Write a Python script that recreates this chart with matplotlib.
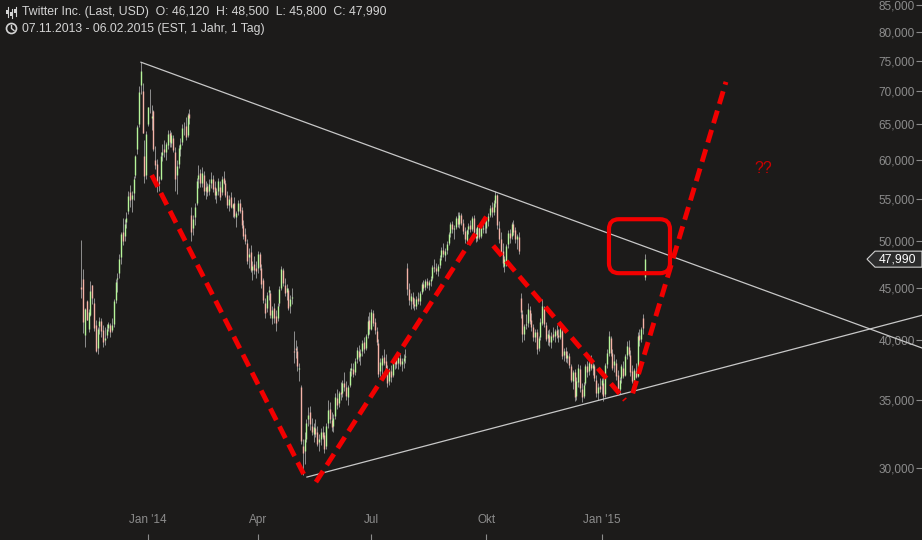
import numpy as np
import matplotlib
matplotlib.use("Agg")
import matplotlib.pyplot as plt
from matplotlib.patches import FancyBboxPatch, Polygon, Circle, Rectangle
from matplotlib.transforms import IdentityTransform

plt.rcParams['font.family'] = ['Liberation Sans', 'DejaVu Sans']
plt.rcParams['lines.scale_dashes'] = False

# Tageskerzen (open, high, low, close), eine Liste pro Monat
nov13 = [(45.10, 50.09, 44.00, 44.90), (45.93, 46.94, 40.69, 41.65), (40.50, 43.00, 39.40, 42.90),
         (43.66, 43.78, 41.83, 41.90), (41.03, 42.87, 40.76, 42.60), (42.34, 45.67, 42.24, 44.69),
         (45.25, 45.27, 43.43, 43.98), (43.50, 43.95, 40.85, 41.14), (41.39, 41.90, 38.94, 39.06),
         (39.27, 41.20, 38.80, 41.00), (41.30, 42.10, 40.60, 41.75), (41.76, 42.00, 40.30, 40.80),
         (40.90, 41.40, 39.40, 39.87), (40.00, 41.20, 39.60, 40.18), (40.50, 41.50, 40.20, 41.00),
         (41.10, 41.70, 40.80, 41.50)]
dec13 = [(41.40, 41.60, 40.30, 40.78), (40.90, 42.00, 40.70, 41.37), (41.50, 43.90, 41.20, 43.69),
         (43.80, 45.90, 43.50, 45.62), (45.90, 46.50, 44.60, 45.96), (46.50, 48.50, 46.00, 48.00),
         (48.20, 51.00, 47.50, 50.80), (51.00, 52.70, 49.50, 50.00), (50.50, 52.50, 50.00, 51.99),
         (52.20, 53.40, 51.50, 52.60), (53.50, 55.90, 53.10, 55.33), (55.80, 56.70, 54.00, 54.86),
         (55.00, 56.00, 53.40, 55.50), (55.70, 57.80, 54.80, 57.49), (58.00, 60.70, 57.60, 60.51),
         (61.50, 64.90, 60.80, 64.54), (65.00, 70.87, 64.60, 69.96), (71.00, 74.73, 69.50, 73.31),
         (70.10, 71.25, 63.69, 63.75), (60.50, 62.70, 56.90, 57.80), (58.00, 64.00, 57.50, 63.65)]
jan14 = [(65.00, 67.50, 64.80, 67.50), (69.00, 70.43, 66.60, 69.00), (65.85, 67.80, 64.11, 66.29),
         (67.00, 67.15, 61.15, 61.46), (59.95, 61.94, 58.76, 59.29), (59.50, 60.13, 55.85, 57.05),
         (57.05, 57.90, 56.00, 57.00), (57.50, 61.00, 57.30, 60.50), (60.70, 62.20, 59.80, 61.00),
         (61.50, 62.80, 60.40, 61.10), (61.00, 62.50, 60.00, 62.20), (62.00, 64.10, 61.50, 63.60),
         (63.80, 64.20, 61.80, 62.50), (62.30, 63.90, 61.80, 63.40), (63.00, 63.50, 61.00, 61.40),
         (61.00, 61.80, 56.00, 57.50), (58.00, 60.00, 55.60, 59.20), (59.50, 62.00, 58.90, 61.60),
         (61.50, 63.00, 60.50, 62.20), (62.50, 65.00, 62.00, 64.50), (64.50, 65.30, 63.40, 64.50)]
feb14 = [(64.80, 66.00, 62.80, 63.20), (63.50, 66.70, 63.20, 66.30), (66.50, 67.30, 65.00, 65.97),
         (53.00, 54.00, 50.00, 50.97), (51.50, 53.00, 50.70, 52.50), (52.80, 54.50, 51.80, 54.00),
         (54.50, 57.60, 54.20, 57.20), (57.50, 59.30, 56.30, 58.00), (58.20, 58.80, 56.50, 57.00),
         (57.00, 59.00, 56.50, 58.20), (58.00, 58.50, 55.50, 56.00), (56.00, 57.20, 55.00, 56.50),
         (56.60, 57.00, 55.30, 55.80), (56.00, 57.50, 55.50, 56.80), (57.00, 58.40, 56.30, 57.50),
         (57.50, 58.00, 55.80, 56.20), (56.50, 57.20, 55.00, 55.40), (55.50, 56.30, 54.50, 55.90),
         (56.00, 57.60, 55.40, 57.20)]
mar14 = [(56.50, 57.20, 54.80, 55.20), (55.80, 57.80, 55.50, 57.50), (57.60, 58.50, 56.80, 57.00),
         (57.00, 57.40, 55.20, 55.40), (55.50, 56.00, 53.80, 54.20), (54.20, 55.50, 53.50, 55.00),
         (55.20, 55.80, 53.80, 54.00), (53.80, 54.50, 52.80, 54.30), (54.50, 55.20, 52.70, 52.90),
         (52.80, 53.50, 51.60, 53.20), (53.50, 54.80, 53.00, 54.40), (54.50, 55.00, 53.20, 53.50),
         (53.60, 54.00, 51.50, 51.80), (51.80, 52.40, 50.20, 50.60), (50.80, 51.50, 49.70, 50.00),
         (49.80, 50.20, 47.50, 47.80), (48.20, 49.20, 47.00, 48.60), (48.80, 49.50, 46.60, 46.80),
         (46.80, 47.80, 45.80, 47.30), (47.50, 48.30, 46.40, 46.80), (47.00, 47.80, 46.00, 46.70)]
apr14 = [(47.00, 48.90, 46.50, 48.50), (48.50, 48.80, 46.80, 47.10), (47.00, 47.50, 45.00, 45.40),
         (45.80, 46.00, 43.50, 43.80), (43.50, 44.00, 42.00, 42.50), (43.00, 44.60, 42.60, 44.30),
         (44.60, 45.20, 43.80, 44.80), (44.50, 44.80, 42.00, 42.30), (42.00, 43.20, 41.50, 42.80),
         (43.00, 43.50, 41.60, 42.00), (42.20, 42.80, 40.80, 41.60), (42.00, 43.50, 41.80, 43.20),
         (43.50, 45.20, 43.20, 44.90), (45.00, 47.30, 44.80, 46.90), (46.80, 47.00, 45.20, 45.50),
         (45.30, 46.00, 44.20, 44.50), (44.60, 45.40, 43.80, 45.00), (44.80, 45.00, 42.80, 43.00),
         (43.20, 44.30, 42.50, 43.90), (44.00, 45.00, 43.40, 44.10), (39.00, 40.80, 38.00, 38.97)]
may14 = [(39.30, 40.00, 38.40, 39.10), (39.00, 39.50, 37.30, 37.70), (37.50, 38.00, 36.50, 37.60),
         (36.00, 36.20, 31.70, 31.85), (31.50, 32.00, 29.51, 31.00), (31.20, 32.50, 30.30, 32.00),
         (32.00, 33.50, 31.80, 33.20), (33.50, 34.40, 33.00, 33.80), (34.00, 34.50, 32.70, 33.10),
         (33.00, 33.60, 32.30, 32.50), (32.40, 33.20, 31.80, 32.90), (32.80, 33.50, 32.20, 32.40),
         (32.50, 33.00, 31.50, 31.70), (31.80, 32.40, 31.20, 32.00), (32.00, 32.80, 31.60, 32.50),
         (32.50, 33.00, 32.00, 32.20), (32.30, 32.50, 31.00, 31.30), (31.50, 33.20, 31.30, 33.00),
         (33.20, 35.00, 32.80, 34.20), (34.30, 34.80, 33.20, 33.50), (33.40, 34.00, 32.60, 32.90)]
jun14 = [(33.00, 33.90, 32.50, 33.60), (33.70, 35.50, 33.50, 35.20), (35.10, 35.80, 34.30, 34.60),
         (34.70, 35.70, 34.40, 35.50), (35.60, 36.40, 35.00, 35.40), (35.50, 36.60, 35.20, 36.30),
         (36.30, 37.20, 35.70, 36.00), (36.00, 36.50, 35.00, 35.30), (35.20, 36.20, 34.60, 36.00),
         (36.20, 37.60, 36.00, 37.30), (37.40, 38.00, 36.90, 37.60), (37.50, 38.00, 36.80, 37.10),
         (37.20, 38.40, 37.00, 38.20), (38.30, 39.40, 38.00, 39.10), (39.00, 39.60, 38.20, 38.50),
         (38.60, 39.20, 37.80, 38.90), (39.00, 40.00, 38.60, 39.70), (39.80, 40.30, 38.90, 39.20),
         (39.30, 40.60, 39.10, 40.40), (40.50, 42.20, 40.20, 41.80), (41.90, 42.60, 40.60, 40.97)]
jul14 = [(41.00, 42.90, 40.90, 42.60), (42.50, 42.80, 41.30, 41.60), (41.70, 42.00, 40.60, 40.90),
         (40.80, 41.20, 39.60, 39.80), (39.70, 40.10, 36.80, 37.10), (37.30, 38.40, 36.90, 38.10),
         (37.80, 38.70, 36.60, 38.40), (38.50, 39.20, 37.80, 38.00), (38.20, 38.80, 37.10, 37.40),
         (37.40, 37.80, 36.00, 36.30), (36.50, 37.60, 36.20, 37.40), (37.30, 37.80, 36.40, 36.80),
         (37.00, 38.30, 36.80, 38.10), (38.00, 38.60, 37.50, 38.20), (38.30, 38.80, 37.60, 37.90),
         (38.00, 38.70, 37.50, 38.50), (38.40, 38.90, 37.70, 37.90), (37.90, 38.40, 37.30, 38.20),
         (38.20, 38.80, 37.60, 38.40), (38.50, 39.20, 38.00, 38.60), (47.00, 47.60, 44.30, 44.88),
         (44.90, 45.50, 43.30, 43.80)]
aug14 = [(43.70, 44.50, 42.90, 44.20), (44.10, 44.60, 43.00, 43.40), (43.40, 44.00, 42.80, 43.20),
         (43.20, 44.20, 42.90, 43.90), (44.00, 44.60, 43.40, 43.70), (43.70, 44.70, 43.30, 44.50),
         (44.60, 45.60, 44.40, 45.40), (45.40, 45.80, 44.70, 45.00), (45.10, 45.90, 44.80, 45.70),
         (45.70, 46.00, 45.00, 45.30), (45.30, 45.80, 44.80, 45.60), (45.70, 46.20, 45.20, 45.90),
         (46.00, 47.40, 45.80, 47.10), (47.10, 48.00, 46.60, 47.00), (47.00, 47.60, 46.40, 46.70),
         (46.70, 47.50, 46.20, 47.30), (47.40, 48.40, 47.00, 48.10), (48.20, 49.30, 47.90, 49.00),
         (49.00, 49.80, 48.20, 48.50), (48.40, 49.20, 47.80, 48.90), (49.00, 50.00, 48.60, 49.70)]
sep14 = [(49.80, 51.00, 49.50, 50.80), (50.90, 52.20, 50.40, 51.90), (51.90, 52.30, 50.90, 51.30),
         (51.30, 51.80, 50.20, 51.50), (51.60, 52.90, 51.30, 52.60), (52.60, 53.40, 51.60, 51.90),
         (51.90, 53.30, 51.50, 53.00), (53.00, 53.20, 51.80, 52.10), (52.10, 52.50, 50.80, 51.10),
         (51.10, 51.60, 49.80, 50.20), (50.10, 51.40, 49.70, 51.20), (51.30, 52.10, 50.80, 51.70),
         (51.80, 52.40, 51.00, 51.30), (51.40, 52.90, 51.10, 52.70), (52.60, 53.00, 50.80, 51.00),
         (50.90, 51.50, 49.90, 50.30), (50.30, 51.80, 50.00, 51.60), (51.50, 51.80, 50.20, 50.40),
         (50.50, 52.00, 50.30, 51.70), (51.30, 52.00, 50.90, 51.50), (51.60, 52.40, 50.90, 51.58)]
oct14 = [(51.50, 52.70, 50.90, 52.30), (52.30, 53.20, 51.70, 52.90), (53.00, 54.20, 52.80, 53.90),
         (54.00, 54.60, 52.80, 53.30), (53.30, 54.80, 53.00, 54.40), (54.50, 55.99, 54.00, 55.50),
         (55.40, 55.60, 51.40, 51.80), (51.50, 52.30, 49.80, 50.20), (50.20, 51.00, 48.60, 48.80),
         (48.90, 49.80, 47.20, 47.60), (47.30, 48.30, 46.60, 48.00), (47.60, 49.60, 47.30, 49.40),
         (49.60, 51.20, 49.20, 50.90), (50.90, 51.40, 49.80, 50.30), (50.50, 52.20, 50.20, 51.90),
         (51.90, 52.40, 50.70, 51.00), (51.20, 51.60, 49.80, 50.20), (50.20, 50.80, 49.10, 50.50),
         (50.40, 51.00, 48.60, 48.89), (44.00, 44.50, 42.00, 42.60), (42.40, 42.80, 39.80, 40.60),
         (40.60, 41.50, 40.00, 41.30), (41.40, 42.40, 41.00, 41.50)]
nov14 = [(41.60, 43.50, 41.20, 42.90), (42.80, 43.20, 41.50, 41.80), (41.90, 42.50, 40.80, 41.20),
         (41.20, 41.50, 39.90, 40.30), (40.30, 41.00, 39.80, 40.70), (40.70, 41.00, 38.80, 39.20),
         (39.30, 40.40, 39.00, 40.20), (40.30, 42.00, 40.00, 41.70), (41.60, 43.90, 41.40, 43.20),
         (43.00, 43.20, 41.20, 41.50), (41.40, 41.70, 39.90, 40.10), (40.20, 40.90, 39.60, 40.60),
         (40.50, 41.00, 39.50, 39.80), (39.80, 40.70, 39.30, 40.40), (40.60, 41.20, 40.00, 40.30),
         (40.40, 41.00, 39.80, 40.80), (40.90, 41.40, 40.20, 40.50), (40.50, 41.00, 39.80, 40.30),
         (40.30, 41.20, 40.10, 41.00)]
dec14 = [(40.80, 41.00, 38.30, 38.60), (38.70, 39.30, 38.20, 39.00), (39.00, 39.40, 38.10, 38.40),
         (38.40, 39.00, 38.00, 38.70), (38.60, 38.90, 37.60, 37.80), (37.70, 37.90, 36.40, 36.60),
         (36.50, 37.40, 35.80, 37.20), (37.20, 37.50, 34.90, 35.20), (35.30, 36.80, 35.00, 36.50),
         (36.40, 37.90, 36.00, 37.60), (37.50, 37.80, 35.60, 35.90), (35.80, 36.30, 34.80, 35.20),
         (35.30, 36.40, 35.10, 36.20), (36.30, 37.90, 36.20, 37.70), (37.70, 38.20, 36.80, 37.20),
         (37.30, 38.30, 37.00, 38.00), (38.10, 38.70, 37.40, 37.60), (37.60, 38.00, 37.00, 37.80),
         (37.70, 37.90, 36.50, 36.70), (36.60, 37.00, 35.20, 35.50), (35.50, 36.30, 35.00, 36.00),
         (36.10, 36.70, 35.60, 35.87)]
jan15 = [(36.20, 36.70, 35.40, 36.56), (36.30, 37.00, 34.90, 35.30), (35.40, 38.00, 35.20, 37.80),
         (37.90, 39.20, 37.60, 38.90), (38.90, 40.80, 38.60, 40.40), (40.20, 40.40, 38.60, 38.90),
         (38.90, 39.20, 37.40, 37.60), (37.80, 38.80, 37.20, 38.20), (38.00, 38.30, 36.60, 36.90),
         (37.00, 37.40, 35.60, 35.80), (35.80, 36.80, 35.40, 36.60), (36.70, 37.90, 36.30, 37.70),
         (37.60, 38.20, 36.70, 36.90), (37.00, 38.80, 36.90, 38.60), (38.70, 39.90, 38.30, 39.50),
         (39.40, 40.00, 38.60, 38.80), (38.70, 39.10, 36.90, 37.20), (37.30, 37.80, 36.30, 36.50),
         (36.40, 37.60, 35.90, 37.40), (37.30, 38.00, 36.70, 36.80)]
feb15 = [(36.90, 40.70, 36.80, 40.40), (40.50, 41.00, 39.50, 40.00), (40.10, 41.20, 39.80, 41.00),
         (42.00, 42.40, 40.60, 41.10), (46.12, 48.50, 45.80, 47.99)]

months = [nov13, dec13, jan14, feb14, mar14, apr14, may14, jun14, jul14,
          aug14, sep14, oct14, nov14, dec14, jan15, feb15]
# Monatsbeschriftung: Index des Monats in 'months' -> Text
month_labels = {2: "Jan '14", 5: "Apr", 8: "Jul", 11: "Okt", 14: "Jan '15"}

y_ticks = [30, 35, 40, 45, 50, 55, 60, 65, 70, 75, 80, 85]
last_price = 47.99

# Trendlinien (Kerzenindex, Kurs)
upper_x, upper_y = [33.1, 467.0], [74.73, 39.3]
lower_x, lower_y = [125.3, 467.0], [29.4, 42.3]
# rote Strichlinien
red_legs = [([39.1, 125.2], [57.98, 29.2]),
            ([130.3, 225.3], [29.07, 52.9]),
            ([228.8, 302.0], [49.46, 34.96]),
            ([306.3, 358.1], [35.49, 71.5])]
box_x, box_y = [293.1, 327.0], [46.5, 52.5]
note_x, note_y = 378.7, 58.9

rows = np.array([c for m in months for c in m])
o, h, l, c = rows[:, 0], rows[:, 1], rows[:, 2], rows[:, 3]
x = np.arange(len(rows))
starts = np.concatenate([[0], np.cumsum([len(m) for m in months])[:-1]])

bg = '#1c1b1a'
W, H = 922, 540
fig = plt.figure(figsize=(W / 100, H / 100), dpi=100, facecolor=bg)
ax = fig.add_axes([0, 0, 1, 1], facecolor=bg)
ax.set_yscale('log')
ax.set_xlim(-45.2, 467.0)
ax.set_ylim(25.52, 85.95)

# Kerzen
ax.vlines(x, l, h, color='#8e8e8e', lw=0.7, zorder=2)
body_cols = np.where(c >= o, '#b6f59a', '#f5b3a8')
ax.vlines(x, np.minimum(o, c), np.maximum(o, c), colors=body_cols, lw=1.0, zorder=3)

# Trendlinien
ax.plot(upper_x, upper_y, color='#c8c8c8', lw=0.9, zorder=4)
ax.plot(lower_x, lower_y, color='#c8c8c8', lw=0.9, zorder=4)
for lx, ly in red_legs:
    ax.plot(lx, ly, color='#f20000', lw=3.5, ls=(0, (9.5, 5.0)), solid_capstyle='butt', zorder=5)

ax.text(note_x, note_y, '??', color='#cc0000', fontsize=11.5, ha='center', va='center', zorder=6)

# Achsen
for s in ax.spines.values():
    s.set_visible(False)
ax.yaxis.tick_right()
ax.minorticks_off()
ax.set_yticks(y_ticks)
ax.set_yticklabels([f"{v:.3f}".replace('.', ',') for v in y_ticks])
ax.tick_params(axis='y', which='both', direction='in', length=4, pad=-5,
               colors='#8c8c8c', labelsize=8.5, width=0.8)
for lab in ax.get_yticklabels():
    lab.set_horizontalalignment('right')
ax.yaxis.set_minor_locator(plt.NullLocator())

ax.set_xticks([starts[k] for k in month_labels])
ax.set_xticklabels(list(month_labels.values()))
ax.tick_params(axis='x', direction='in', length=4, pad=-19, colors='#8c8c8c',
               labelsize=8.5, width=0.8)

fig.canvas.draw()


def px(xx, yy):
    return (xx, H - yy)


# roter Rahmen
(x0, y0), (x1, y1) = ax.transData.transform([(box_x[0], box_y[0]), (box_x[1], box_y[1])])
ax.add_patch(FancyBboxPatch((x0, y0), x1 - x0, y1 - y0,
                            boxstyle="round,pad=0,rounding_size=10",
                            transform=IdentityTransform(), fill=False,
                            ec='#f20000', lw=3.0, zorder=6))

# Kursmarke rechts
_, yp = ax.transData.transform((0, last_price))
tag = Polygon([(867, yp), (875, yp + 8), (W, yp + 8), (W, yp - 8), (875, yp - 8)],
              closed=True, transform=IdentityTransform(), fc='#2c2c2c', ec='#d0d0d0',
              lw=0.8, zorder=7)
ax.add_patch(tag)
ax.text(916 / W, yp / H, "47,990", transform=ax.transAxes, color='white',
        fontsize=8.8, ha='right', va='center', zorder=8)

# Kopfzeile
fig.text(22 / W, 1 - 12 / H, "Twitter Inc. (Last, USD)  O: 46,120  H: 48,500  L: 45,800  C: 47,990",
         color='#d4d4d4', fontsize=8.8, va='center', ha='left')
fig.text(22 / W, 1 - 29 / H, "07.11.2013 - 06.02.2015 (EST, 1 Jahr, 1 Tag)",
         color='#d4d4d4', fontsize=8.8, va='center', ha='left')

# kleine Symbole
ident = IdentityTransform()
for cx, top, bot, b0, b1 in [(7.5, 7, 17, 10, 14), (11.5, 9, 18, 12, 16), (15.5, 7, 16, 9, 13)]:
    fig.add_artist(plt.Line2D([cx, cx], [H - top, H - bot], color='#d4d4d4', lw=0.8, transform=ident))
    fig.add_artist(Rectangle((cx - 1.3, H - b1), 2.6, b1 - b0, fc='#d4d4d4', ec='none', transform=ident))
fig.add_artist(Circle(px(11.5, 28.5), 5, fill=False, ec='#d4d4d4', lw=1.2, transform=ident))
fig.add_artist(plt.Line2D([11.5, 11.5, 14.0], [H - 25.5, H - 28.5, H - 30.5], color='#d4d4d4',
                          lw=1.0, transform=ident))

fig.savefig('out.png', dpi=100, facecolor=bg)
